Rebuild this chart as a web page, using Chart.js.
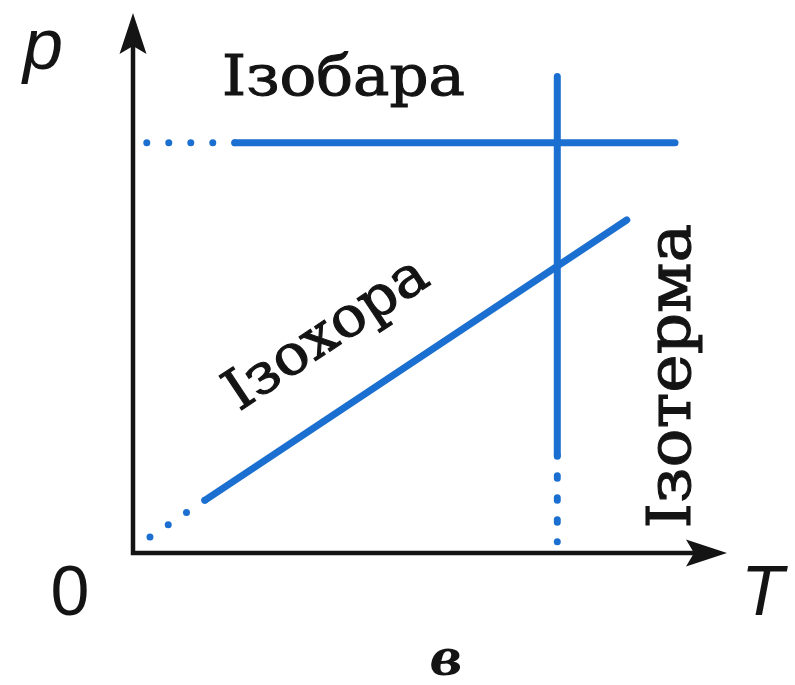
<!DOCTYPE html>
<html>
<head>
<meta charset="utf-8">
<script src="https://cdn.jsdelivr.net/npm/chart.js@4/dist/chart.umd.min.js"></script>
<style>
  html, body { margin: 0; padding: 0; background: #ffffff; }
  #wrap { width: 795px; height: 685px; }
</style>
</head>
<body>
<div id="wrap"><canvas id="c" width="795" height="685"></canvas></div>
<script>
// Axis extents (arbitrary units of temperature T and pressure p)
const T_MAX = 11.2;
const P_MAX = 10.2;

// Isobar: p = const (first segment dotted, continuing solid)
const isobarT = [0.26, 1.92, 10.22];
const isobarP = [7.75, 7.75, 7.75];

// Isotherm: T = const (top part solid, bottom part dotted down to the axis)
const isothermT = [8.0, 8.0, 8.0];
const isothermP = [9.0, 1.85, 0.2];

// Isochore: p proportional to T (dotted near the origin, then solid)
const isochoreT = [0.32, 1.36, 9.31];
const isochoreP = [0.30, 1.00, 6.29];

// Which segment index of each line is drawn dotted
const isobarDotted = 0;
const isothermDotted = 1;
const isochoreDotted = 0;

const lineNames = ['Ізобара', 'Ізотерма', 'Ізохора'];
const axisNames = { p: 'p', T: 'T', origin: '0', caption: 'в' };

const BLUE = '#1b6fd0';
const INK = '#141414';

function points(ts, ps) {
  return ts.map((t, i) => ({ x: t, y: ps[i] }));
}

function lineDataset(label, ts, ps, dottedIdx) {
  return {
    label,
    data: points(ts, ps),
    showLine: true,
    borderColor: BLUE,
    backgroundColor: BLUE,
    borderWidth: 7,
    borderCapStyle: 'round',
    pointRadius: 0,
    pointHoverRadius: 0,
    clip: false,
    segment: {
      borderDash: ctx => ctx.p0DataIndex === dottedIdx ? [0, 22] : undefined
    }
  };
}

// Serif caption, slightly widened and emboldened
function serifText(ctx, text, x, y, angle, size, stretch, align) {
  ctx.save();
  ctx.translate(x, y);
  ctx.rotate(angle);
  ctx.scale(stretch, 1);
  ctx.font = size + 'px "DejaVu Serif"';
  ctx.textAlign = align;
  ctx.textBaseline = 'alphabetic';
  ctx.fillStyle = INK;
  ctx.strokeStyle = INK;
  ctx.lineWidth = 1.1;
  ctx.fillText(text, 0, 0);
  ctx.strokeText(text, 0, 0);
  ctx.restore();
}

// Axes with arrowheads and all text labels
const diagramDecor = {
  id: 'diagramDecor',
  beforeDatasetsDraw(chart) {
    const { ctx, scales: { x, y } } = chart;
    const x0 = x.getPixelForValue(0), y0 = y.getPixelForValue(0);
    const xTip = x.getPixelForValue(T_MAX), yTip = y.getPixelForValue(P_MAX);
    const len = 41, half = 13.5, notch = 33;
    ctx.save();
    ctx.strokeStyle = INK;
    ctx.fillStyle = INK;
    ctx.lineWidth = 4.5;
    ctx.lineJoin = 'miter';
    ctx.beginPath();
    ctx.moveTo(x0, yTip + notch);
    ctx.lineTo(x0, y0);
    ctx.lineTo(xTip - notch, y0);
    ctx.stroke();
    // vertical arrowhead
    ctx.beginPath();
    ctx.moveTo(x0, yTip);
    ctx.lineTo(x0 + half, yTip + len);
    ctx.lineTo(x0, yTip + notch);
    ctx.lineTo(x0 - half, yTip + len);
    ctx.closePath();
    ctx.fill();
    // horizontal arrowhead
    ctx.beginPath();
    ctx.moveTo(xTip, y0);
    ctx.lineTo(xTip - len, y0 - half);
    ctx.lineTo(xTip - notch, y0);
    ctx.lineTo(xTip - len, y0 + half);
    ctx.closePath();
    ctx.fill();
    ctx.restore();
  },
  afterDatasetsDraw(chart) {
    const { ctx, scales: { x, y } } = chart;
    const px = v => x.getPixelForValue(v);
    const py = v => y.getPixelForValue(v);
    const x0 = px(0), y0 = py(0);

    // curve names
    serifText(ctx, lineNames[0], px(1.68), py(8.65), 0, 56, 1.09, 'left');
    serifText(ctx, lineNames[1], px(10.5), py(3.34), -Math.PI / 2, 60, 1.08, 'center');
    const ang = Math.atan2(py(isochoreP[2]) - py(isochoreP[1]), px(isochoreT[2]) - px(isochoreT[1]));
    serifText(ctx, lineNames[2], px(3.82), py(3.88), ang, 56, 1.05, 'center');

    // axis symbols
    ctx.save();
    ctx.fillStyle = INK;
    ctx.textBaseline = 'alphabetic';
    ctx.font = 'italic 72px "Liberation Sans"';
    ctx.textAlign = 'left';
    ctx.fillText(axisNames.p, x0 - 110, py(P_MAX) + 56);
    ctx.font = 'italic 70px "Liberation Sans"';
    ctx.fillText(axisNames.T, px(T_MAX) + 14, y0 + 62);
    ctx.font = '70px "Liberation Sans"';
    ctx.textAlign = 'center';
    ctx.fillText(axisNames.origin, x0 - 63, y0 + 62);
    ctx.font = 'bold italic 50px "DejaVu Serif"';
    ctx.fillText(axisNames.caption, x0 + 313, y0 + 122);
    ctx.restore();
  }
};

new Chart(document.getElementById('c'), {
  type: 'scatter',
  data: {
    datasets: [
      lineDataset(lineNames[0], isobarT, isobarP, isobarDotted),
      lineDataset(lineNames[1], isothermT, isothermP, isothermDotted),
      lineDataset(lineNames[2], isochoreT, isochoreP, isochoreDotted)
    ]
  },
  options: {
    responsive: false,
    animation: false,
    layout: { padding: { left: 133, right: 68, top: 13, bottom: 132 } },
    plugins: { legend: { display: false }, tooltip: { enabled: false } },
    scales: {
      x: { type: 'linear', min: 0, max: T_MAX, display: false },
      y: { type: 'linear', min: 0, max: P_MAX, display: false }
    }
  },
  plugins: [diagramDecor]
});
</script>
</body>
</html>
